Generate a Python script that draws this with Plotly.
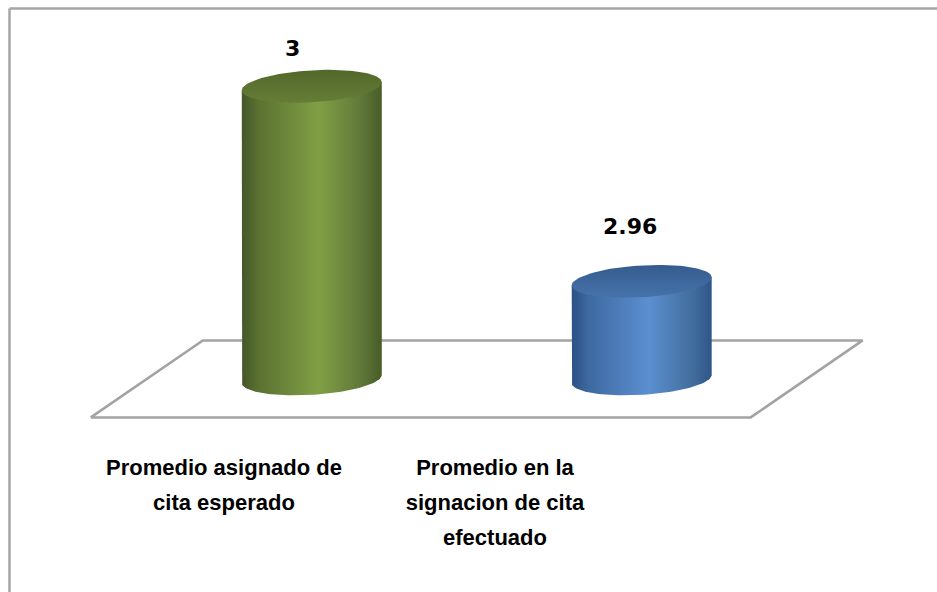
import numpy as np
import plotly.graph_objects as go

# ---- data -------------------------------------------------------------
categories = [
    "Promedio asignado de<br>cita esperado",
    "Promedio en la<br>signacion de cita<br>efectuado",
]
values = [3, 2.96]
axis_min = 2.94          # value where the cylinders stand

# ---- style ------------------------------------------------------------
W, H = 937, 592
X_RANGE = [-0.945, 1.895]          # category axis (cylinders)
Y_RANGE = [2.8963, 3.0177]         # value axis
X2_RANGE = [-0.8266, 2.631]        # category axis used for the labels

body_scales = [
    [[0, "#44572a"], [0.12, "#5b7131"], [0.55, "#80a045"], [0.85, "#617839"], [1, "#485c27"]],
    [[0, "#2b5084"], [0.12, "#3e69a1"], [0.55, "#5b8fd0"], [0.85, "#436f9e"], [1, "#2f5689"]],
]
top_scales = [
    [[0, "#667d36"], [1, "#52682b"]],
    [[0, "#4673ab"], [1, "#365b8e"]],
]
label_shift = [(-19, 38), (-12, 55)]   # px offsets for the value labels

RADIUS_PX = 70      # cylinder half width
ELLIPSE_PX = 16     # half height of the elliptical caps
TILT_PX = 4         # perspective tilt of the caps
DEPTH_X_PX = 56     # half depth of the floor, horizontal
DEPTH_Y_PX = 38.5   # half depth of the floor, vertical
LINE_PITCH_PX = 35
FIRST_LINE_PX = 469

dxp = (X_RANGE[1] - X_RANGE[0]) / W
dyp = (Y_RANGE[1] - Y_RANGE[0]) / H

a = RADIUS_PX * dxp
b = ELLIPSE_PX * dyp
t = TILT_PX * dyp

fig = go.Figure()

# floor of the 3D plot area
fx0, fx1 = -0.5, len(categories) - 0.5
ddx, ddy = DEPTH_X_PX * dxp, DEPTH_Y_PX * dyp
floor_x = [fx0 - ddx, fx1 - ddx, fx1 + ddx, fx0 + ddx, fx0 - ddx]
floor_y = [axis_min - ddy, axis_min - ddy, axis_min + ddy, axis_min + ddy, axis_min - ddy]
fig.add_trace(go.Scatter(x=floor_x, y=floor_y, mode="lines",
                         line=dict(color="#a3a3a3", width=2.5),
                         hoverinfo="skip", showlegend=False))

# cylinders
for i, v in enumerate(values):
    cx = i
    th_front = np.linspace(np.pi, 2 * np.pi, 60)
    bx = cx + a * np.cos(th_front)
    by = axis_min + b * np.sin(th_front) + t * np.cos(th_front)
    body_x = np.concatenate([[cx - a], bx, [cx + a, cx - a]])
    body_y = np.concatenate([[v - t], by, [v + t, v - t]])
    fig.add_trace(go.Scatter(
        x=body_x, y=body_y, mode="lines", fill="toself",
        line=dict(width=0),
        fillgradient=dict(type="horizontal", colorscale=body_scales[i]),
        hoverinfo="skip", showlegend=False))

    th = np.linspace(0, 2 * np.pi, 120)
    tx = cx + a * np.cos(th)
    ty = v + b * np.sin(th) + t * np.cos(th)
    fig.add_trace(go.Scatter(
        x=tx, y=ty, mode="lines", fill="toself",
        line=dict(width=0),
        fillgradient=dict(type="vertical", colorscale=top_scales[i]),
        hoverinfo="skip", showlegend=False))

    fig.add_annotation(
        x=cx, y=v, xref="x", yref="y", text=f"<b>{v:g}</b>",
        showarrow=False, xanchor="center", yanchor="middle",
        xshift=label_shift[i][0], yshift=label_shift[i][1],
        font=dict(family="DejaVu Sans", size=22, color="black"))

# category labels, one text mark per line
for i, cat in enumerate(categories):
    lines = cat.split("<br>")
    ys = [Y_RANGE[1] - (FIRST_LINE_PX + k * LINE_PITCH_PX) * dyp for k in range(len(lines))]
    fig.add_trace(go.Scatter(
        x=[i] * len(lines), y=ys, xaxis="x2", mode="text",
        text=[f"<b>{ln}</b>" for ln in lines], textposition="middle center",
        textfont=dict(family="Liberation Sans", size=22, color="black"),
        hoverinfo="skip", showlegend=False))

# chart border: only the top and left edges fall inside the page
border = dict(color="#a6a6a6", width=2.5)
fig.add_shape(type="line", xref="paper", yref="paper",
              x0=9.5 / W, x1=1.0, y0=1 - 8.5 / H, y1=1 - 8.5 / H,
              line=border, layer="below")
fig.add_shape(type="line", xref="paper", yref="paper",
              x0=9.5 / W, x1=9.5 / W, y0=0.0, y1=1 - 8.5 / H,
              line=border, layer="below")

fig.update_layout(
    width=W, height=H,
    margin=dict(l=0, r=0, t=0, b=0),
    paper_bgcolor="white", plot_bgcolor="white",
    xaxis=dict(range=X_RANGE, visible=False, fixedrange=True),
    xaxis2=dict(range=X2_RANGE, visible=False, overlaying="x", anchor="y", fixedrange=True),
    yaxis=dict(range=Y_RANGE, visible=False, fixedrange=True),
)

fig.write_html("out.html")
